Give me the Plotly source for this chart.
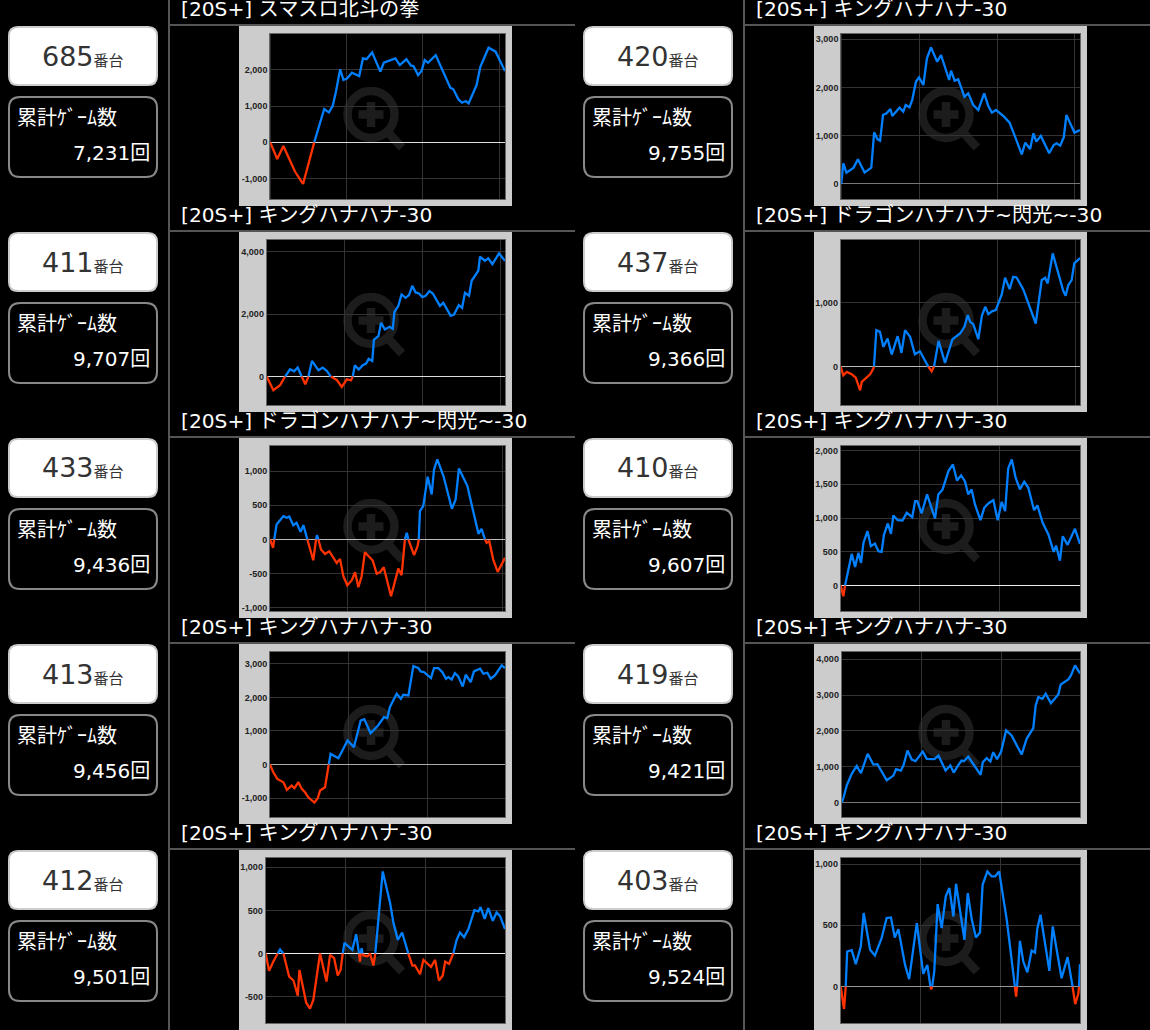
import plotly.graph_objects as go

# ---- data ----
machines = ["685", "420", "411", "437", "433", "410", "413", "419", "412", "403"]
game_counts = ["7,231", "9,755", "9,707", "9,366", "9,436", "9,607", "9,456", "9,421", "9,501", "9,524"]
KING = "[20S+] キングハナハナ-30"
DRAGON = "[20S+] ドラゴンハナハナ~閃光~-30"
titles = ["[20S+] スマスロ北斗の拳", KING, KING, DRAGON, DRAGON, KING, KING, KING, KING, KING]

m685_x = [0,3,5.6,8.3,10.6,14,18.75,20.8,23,25,26.6,28,29.8,31.2,32.8,34.8,37,37.9,39.5,41,43.4,45,46.9,48.4,50.5,53.3,55.2,58,60,61,63,64.5,65.8,67.2,70.5,73,75,76.7,78,80.2,81.7,83.3,84.5,86.4,87.9,89.5,93,96,98,100]
m685_y = [0,-460,-100,-490,-810,-1145,0,475,917,825,1000,1390,2010,1715,1760,1915,1835,1825,2310,2290,2475,2220,1945,2190,2245,2310,2125,2285,2110,2100,1850,1970,2265,2190,2400,2035,1715,1505,1460,1180,1090,1137,1073,1350,1577,2080,2605,2495,2220,1960]
m420_x = [0,0.9,2.2,5.2,7,9.8,12.6,13.8,15.2,16.3,17.5,19,20.6,21.4,24.4,26,27,28.6,29.8,31.3,32.6,34.4,35.9,37.6,40.2,41.8,45.2,46,47.5,49,51.6,53.2,55.3,57.4,59.9,61.6,63.1,64.8,68.2,70.5,72.8,75.6,77.1,79.1,80.5,81.7,83.6,87.1,89,90.2,91.7,93.2,94.3,97.7,100]
m420_y = [0,428,235,339,511,235,339,1071,926,898,1430,1465,1555,1410,1582,1500,1638,1590,1755,2120,2211,2052,2605,2833,2536,2674,2156,2350,2142,2170,1810,1880,1638,1534,1880,1617,1479,1534,1396,1271,981,615,857,725,1050,878,995,636,808,843,795,967,1430,1064,1119]
m411_x = [0,2.8,5.6,7.7,9.8,11.5,13,14.7,16.2,17.5,19,21.7,23.5,25.2,26.9,29.4,31.5,33.6,35.4,36.1,37,38.6,40.3,41.7,42.8,44.3,45,46.9,48,49.6,51.5,52.9,53.6,55.2,56.6,58.3,59.7,61.1,62.5,63.9,65.3,66.7,68.3,69.7,72.7,74.1,77.2,78.6,80.6,82,83.2,84.9,86,88.8,89.5,91.6,93,94.7,97.5,100]
m411_y = [0,-439,-278,0,235,171,289,0,-246,0,503,203,289,182,0,-107,-332,-86,-118,0,364,225,364,417,567,503,1188,1295,1723,1509,1594,1530,2076,2258,2632,2525,2611,2910,2696,2664,2547,2589,2739,2664,2268,2365,1947,1990,2290,2204,2686,2589,3071,3392,3841,3713,3788,3606,3948,3713]
m437_x = [0,1.1,2.5,4.6,6.3,8.1,8.8,12.3,13.6,13.9,14.9,16.4,17.8,19.6,21.3,23.8,25.4,26.9,29,31,33.1,36.6,38,39,40.9,43.6,46.7,49.9,51.7,53.1,54.1,55.4,57.5,59,60.4,61.7,63.2,64.8,67.3,68.7,70.6,72.1,73.5,76.3,78.7,81.5,84,85.4,86.5,88.6,93,94,95.1,96.5,97.6,100]
m437_y = [0,-135,-83,-120,-172,-369,-239,-120,-36,0,567,541,307,437,187,473,213,567,463,192,239,0,-73,0,400,57,426,515,619,801,697,660,426,790,931,816,860,879,1123,1383,1206,1399,1388,1201,957,671,1347,1383,1295,1763,1180,1102,1269,1347,1607,1690]
m433_x = [0,1.3,1.8,2.8,5.7,7.1,8.2,9.9,11.3,13,14.2,15.9,18.4,19.6,20,20.6,21.7,23.4,25.2,28.4,29.8,31.2,32.9,34.8,36.2,37.6,39,40.4,43.7,45.4,46.8,48.4,51.5,54.6,56,57.4,58.2,58.9,60.7,61.3,62.8,63.3,63.8,65.2,67.1,68.8,69.8,71.2,73.8,77.4,79,80.4,84,85.8,88.7,90,91.5,92.2,93.3,95,96.9,100]
m433_y = [0,-122,0,220,342,317,337,210,244,112,210,0,-303,0,63,0,-146,-210,-171,-342,-283,-537,-669,-595,-478,-698,-537,-185,-307,-498,-478,-405,-830,-425,-522,0,98,0,-171,-229,-98,0,415,488,917,659,1025,1171,927,449,586,1039,781,512,83,156,0,-49,-24,-293,-473,-268]
m410_x = [0,1.1,1.8,4.6,6,7.4,8.5,9.5,11.2,12.6,14.3,15.8,17.1,18.1,19.7,21,22,23.8,25.8,27.6,29.9,31.1,32,33.8,36.1,39.4,40.8,42.6,45,46.9,48.6,50.3,51.9,53.3,54.7,56.1,58.4,60,61.7,63.8,65.6,67.3,68.7,70,71.5,73.1,74.9,76.7,78.4,80.8,82.2,84.4,86.8,89,90,91.6,92.8,94.8,97.9,100]
m410_y = [0,-158,0,469,277,484,336,632,805,583,622,509,499,756,919,766,1037,968,963,1077,1013,1250,1250,1067,1349,993,1349,1423,1694,1793,1556,1630,1546,1349,1423,1200,968,1151,1215,1265,968,1240,1102,1734,1867,1596,1423,1536,1447,1116,1186,929,756,499,593,370,731,603,840,617]
m413_x = [0,1.4,3.1,5.7,7.2,9.2,10.4,12.1,13.5,14.9,16.3,18.9,20.3,21.3,23.4,24.4,25,25.8,29.1,33,35.7,38.6,40.1,42.8,46,48.5,49.9,51,53.9,55.7,56.7,58.9,61,63.1,64.1,65.5,68.5,69.8,71.6,73.3,74.9,75.9,77.3,78.7,80.1,82,83.3,85.4,86.8,89.4,90.8,92.5,93.9,95.7,98.6,100]
m413_y = [0,-229,-428,-527,-756,-627,-706,-527,-726,-826,-975,-1134,-1005,-776,-677,-229,0,318,189,716,517,1313,1353,935,1164,1413,1383,1711,2109,1960,2080,2060,2935,2876,2776,2756,2577,2876,2876,2756,2557,2607,2537,2726,2627,2328,2676,2458,2776,2856,2706,2736,2557,2657,2955,2876]
m419_x = [0,0.8,2.1,4.2,6.3,8.1,10.9,13.3,15,18.9,21.7,22.8,24.8,25.9,27.6,29.4,31,34,35.7,38.9,40.6,43.6,45.6,47,49,50.3,51.3,53.1,58.3,59.2,60.8,62.4,63.6,65.2,66.9,69,71.3,75.5,77.6,80.4,81.4,82.5,84.2,85.6,87.8,90.9,91.9,95.1,96.2,97.9,100]
m419_y = [0,149,475,802,1025,820,1361,1062,1072,624,755,932,895,1034,1454,1202,1156,1426,1221,1212,1314,895,1034,839,1053,1174,1156,1286,774,1128,1240,1146,1407,1212,1426,2013,1873,1342,1780,2078,2712,2945,2899,3038,2777,3020,3299,3439,3551,3830,3607]
m412_x = [0,1.4,3.2,5,6,7.4,9.8,11.6,13.4,14.1,16.9,18.5,19.9,22.7,25.4,26.9,28.6,30.1,31.3,32.2,32.9,36.2,37.8,39,39.4,39.7,40.1,40.5,40.8,42.6,43.6,45,45.8,47.4,48.9,52,53.4,55.2,57,59.6,61.3,62.4,64.5,65.9,69.1,70.8,72.4,74,75,76.6,78.4,79.8,81.2,82.9,84.7,87.2,88.9,89.8,91.5,93,94.9,96.5,97.9,100]
m412_y = [0,-201,-93,0,46,0,-267,-313,-488,-190,-569,-639,-538,0,-325,-15,-54,-255,-190,0,124,43,224,0,-93,0,62,0,-23,-31,0,-139,0,488,952,584,352,159,244,0,-139,-139,-240,-74,-155,-74,-313,-255,-93,-120,0,159,244,190,283,503,488,538,402,526,379,476,437,283]
m403_x = [0,1.4,2.1,2.7,4.6,6.3,8.4,9.6,12.3,14.3,17.1,19.2,21,22.6,24.1,26.9,28.6,30.1,31.8,34.5,36.2,37.5,37.8,38.2,39.1,40.5,42.2,43.9,45.4,47.1,48.2,51.7,53.1,54.8,56.5,58.2,59.3,61.3,63.1,64.5,66.2,69.4,72.8,73.3,73.7,74.9,76.3,78,79.8,81.2,82.2,83.5,87.2,88.6,92.3,94.8,96.9,98,99.3,99.6,100]
m403_y = [0,-183,0,286,297,183,327,600,300,253,395,559,564,401,469,177,60,259,518,104,177,0,-22,0,123,673,477,736,804,572,839,381,763,545,401,441,831,940,899,899,940,545,0,-82,0,373,204,117,294,278,477,586,128,490,68,240,0,-144,-60,0,183]

series_x = [m685_x, m420_x, m411_x, m437_x, m433_x, m410_x, m413_x, m419_x, m412_x, m403_x]
series_y = [m685_y, m420_y, m411_y, m437_y, m433_y, m410_y, m413_y, m419_y, m412_y, m403_y]

y_ticks = [
    [-1000, 0, 1000, 2000], [0, 1000, 2000, 3000], [0, 2000, 4000], [0, 1000],
    [-1000, -500, 0, 500, 1000], [0, 500, 1000, 1500, 2000],
    [-1000, 0, 1000, 2000, 3000], [0, 1000, 2000, 3000, 4000],
    [-500, 0, 500, 1000], [0, 500, 1000],
]
y_ranges = [
    [-1568, 2990], [-318, 3116], [-920, 4387], [-603, 1976], [-1049, 1371],
    [-380, 2070], [-1572, 3363], [-410, 4213], [-809, 1111], [-300, 1052],
]
x_grids = [
    [32.5, 65, 97.6], [32.7, 65.4, 97.7], [32.6, 65.3, 98], [32.9, 65.5, 98.3],
    [32.9, 66.1, 99], [32.9, 66.3], [33.3, 67], [33.4, 67], [33.3, 66.9], [33.3, 66.9],
]
plot_lefts = [270.2, 266.2, 266.7, 265.7, 270, 265.7, 270, 266.7, 265.7, 265.7]
zero_colors = ["#dddddd", "#777777", "#dddddd", "#bbbbbb", "#bbbbbb", "#eeeeee", "#aaaaaa", "#777777", "#eeeeee", "#999999"]

BLUE, RED = "#0080ff", "#ff3300"
W, H = 1150, 1030
ROW_LINE0, ROW_PITCH, COL_PITCH = 25, 206, 575


def px(x):
    return x / W


def py(y):
    return 1 - y / H


def runs(xs, ys):
    """Split the walk into blue (above zero) and red (below zero) stretches."""
    out = {BLUE: ([], []), RED: ([], [])}
    cur = None
    for i in range(len(xs) - 1):
        col = BLUE if ys[i] + ys[i + 1] >= 0 else RED
        bx, by = out[col]
        if col != cur:
            if bx:
                bx.append(None)
                by.append(None)
            bx.append(xs[i])
            by.append(ys[i])
            cur = col
        bx.append(xs[i + 1])
        by.append(ys[i + 1])
    return out


def rrect(x0, y0, x1, y1, r):
    yt, yb = 1 - y0 / H, 1 - y1 / H
    rx, ry = r / W, r / H
    a, b = x0 / W, x1 / W
    return (f"M {a+rx} {yt} L {b-rx} {yt} Q {b} {yt} {b} {yt-ry} L {b} {yb+ry} Q {b} {yb} {b-rx} {yb} "
            f"L {a+rx} {yb} Q {a} {yb} {a} {yb+ry} L {a} {yt-ry} Q {a} {yt} {a+rx} {yt} Z")


fig = go.Figure()
shapes, annos = [], []
layout_axes = {}
JP = "DejaVu Sans, Noto Sans CJK JP"

# page rules
for xv in (169, 169 + COL_PITCH):
    shapes.append(dict(type="line", xref="paper", yref="paper", layer="below", x0=px(xv), x1=px(xv), y0=0, y1=1,
                       line=dict(color="#555555", width=2)))

for i in range(len(machines)):
    row, col = i // 2, i % 2
    dx = col * COL_PITCH
    line_y = ROW_LINE0 + row * ROW_PITCH
    # row rule
    shapes.append(dict(type="line", xref="paper", yref="paper", layer="below", x0=px(170 + dx), x1=px(575 + dx),
                       y0=py(line_y), y1=py(line_y), line=dict(color="#555555", width=2)))
    # chart panel
    shapes.append(dict(type="rect", xref="paper", yref="paper", layer="below", x0=px(239 + dx), x1=px(512 + dx),
                       y0=py(min(line_y + 181, H)), y1=py(line_y + 1), fillcolor="#cccccc", line_width=0))
    left, right = plot_lefts[i] + dx, 505 + dx
    top, bottom = line_y + 8.7, line_y + 174.3
    shapes.append(dict(type="rect", xref="paper", yref="paper", layer="below", x0=px(left), x1=px(right),
                       y0=py(bottom), y1=py(top), fillcolor="#000000", line_width=0))
    # magnifier watermark
    cx, cy, wm = 371 + dx, line_y + 89.5, "#1c1c1c"
    shapes.append(dict(type="circle", xref="paper", yref="paper", layer="below", x0=px(cx - 23.5), x1=px(cx + 23.5),
                       y0=py(cy + 23.5), y1=py(cy - 23.5), line=dict(color=wm, width=8.5)))
    for (a, b, c, d) in ((cx - 12.5, cy, cx + 12.5, cy), (cx, cy - 12.5, cx, cy + 12.5), (cx + 18, cy + 19, cx + 31, cy + 33)):
        shapes.append(dict(type="line", xref="paper", yref="paper", layer="below", x0=px(a), x1=px(c),
                           y0=py(b), y1=py(d), line=dict(color=wm, width=8.5)))
    # cards
    shapes.append(dict(type="path", xref="paper", yref="paper", layer="below",
                       path=rrect(9 + dx, line_y + 2, 157 + dx, line_y + 60, 9), fillcolor="#ffffff",
                       line=dict(color="#cccccc", width=2)))
    shapes.append(dict(type="path", xref="paper", yref="paper", layer="below",
                       path=rrect(9 + dx, line_y + 72, 157 + dx, line_y + 152, 11), fillcolor="#000000",
                       line=dict(color="#888888", width=2)))
    # texts
    annos.append(dict(xref="paper", yref="paper", x=px(83 + dx), y=py(line_y + 31), xanchor="center", yanchor="middle",
                      showarrow=False, font=dict(family=JP, size=27, color="#333333"),
                      text=f"{machines[i]}<span style='font-size:15px'>番台</span>"))
    annos.append(dict(xref="paper", yref="paper", x=px(14.5 + dx), y=py(line_y + 93), xanchor="left", yanchor="middle",
                      showarrow=False, font=dict(family=JP, size=20, color="#ffffff"), text="累計ｹﾞｰﾑ数"))
    annos.append(dict(xref="paper", yref="paper", x=px(152 + dx), y=py(line_y + 128), xanchor="right", yanchor="middle",
                      showarrow=False, font=dict(family=JP, size=20, color="#ffffff"), text=f"{game_counts[i]}回"))
    annos.append(dict(xref="paper", yref="paper", x=px(178.5 + dx), y=py(line_y - 16.5), xanchor="left", yanchor="middle",
                      showarrow=False, font=dict(family=JP, size=20.2, color="#ffffff"), text=titles[i]))
    # axes
    n = i + 1
    xn, yn = f"x{n}", f"y{n}"
    layout_axes[f"xaxis{n}"] = dict(domain=[px(left), px(right)], range=[0, 100], anchor=yn, tickvals=x_grids[i],
                                    showticklabels=False, ticks="", showgrid=True, gridcolor="#333333", gridwidth=1,
                                    zeroline=False, showline=True, mirror=True, linecolor="#666666", linewidth=1,
                                    fixedrange=True)
    layout_axes[f"yaxis{n}"] = dict(domain=[py(bottom), py(top)], range=y_ranges[i], anchor=xn, tickvals=y_ticks[i],
                                    ticktext=[f"{v:,}" for v in y_ticks[i]], ticks="", showgrid=True,
                                    gridcolor="#333333", gridwidth=1, zeroline=True, zerolinecolor=zero_colors[i],
                                    zerolinewidth=1, showline=True, mirror=True, linecolor="#666666", linewidth=1,
                                    tickfont=dict(family="Liberation Sans", size=9, color="#222222", weight=700),
                                    fixedrange=True)
    parts = runs(series_x[i], series_y[i])
    for colr, (tx, ty) in parts.items():
        if tx:
            fig.add_trace(go.Scatter(x=tx, y=ty, mode="lines", xaxis=xn, yaxis=yn, showlegend=False, hoverinfo="skip",
                                     line=dict(color=colr, width=2.3), connectgaps=False))

fig.update_layout(width=W, height=H, margin=dict(l=0, r=0, t=0, b=0, autoexpand=False), paper_bgcolor="#000000",
                  plot_bgcolor="rgba(0,0,0,0)", showlegend=False, shapes=shapes, annotations=annos, **layout_axes)
fig.write_html("out.html", config={"displayModeBar": False},
               post_script="document.body.style.margin='0';document.body.style.background='#000';document.body.style.overflow='hidden';")
